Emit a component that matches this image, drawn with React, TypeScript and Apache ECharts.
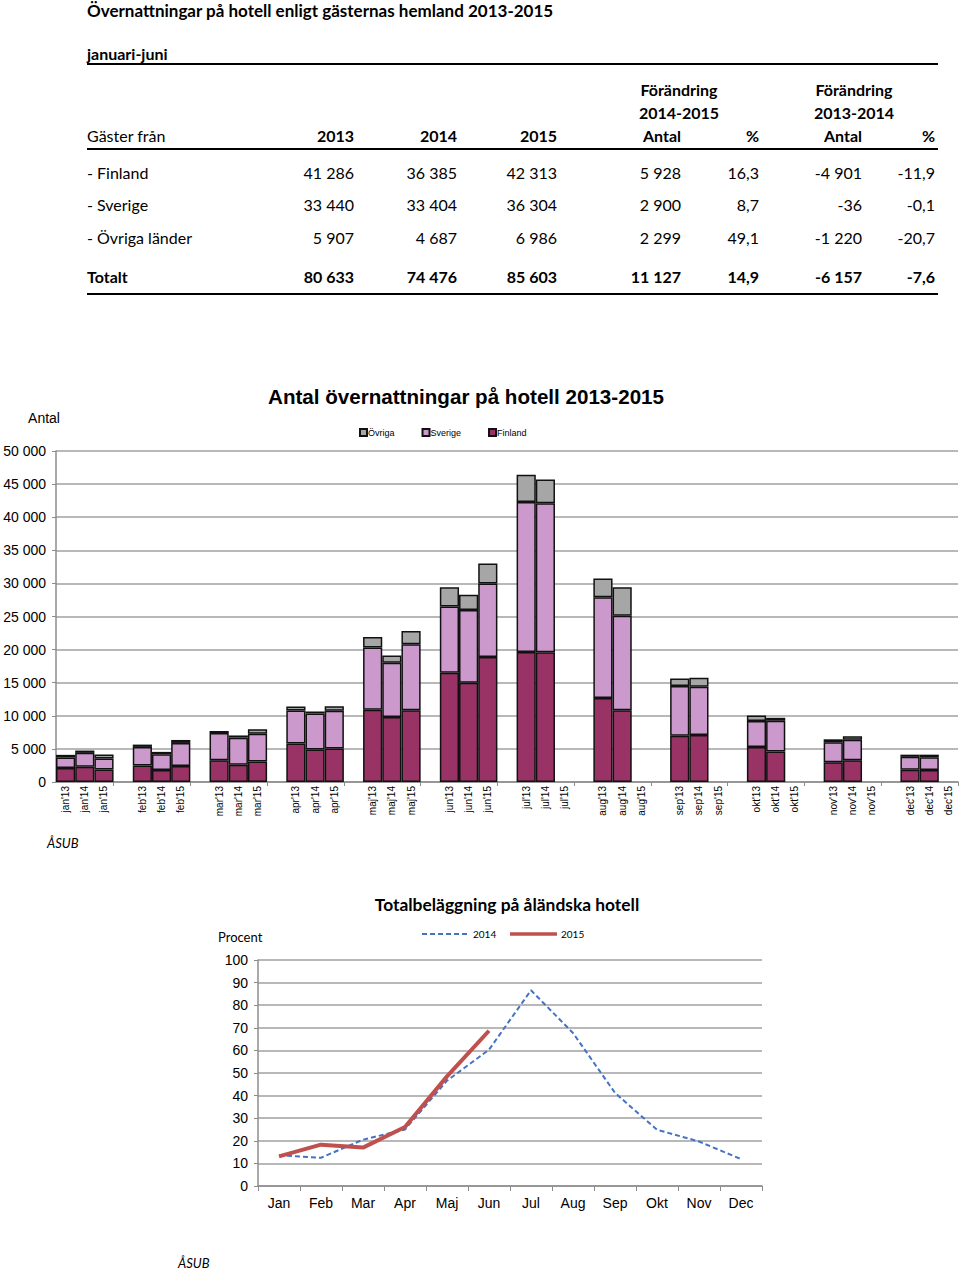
import React, { useEffect, useRef } from 'react';
import * as echarts from 'echarts';

// ---------- Table data ----------
const tableTitle = 'Övernattningar på hotell enligt gästernas hemland 2013-2015';
const tableSubtitle = 'januari-juni';
const headerLabels = ['Gäster från', '2013', '2014', '2015', 'Antal', '%', 'Antal', '%'];
const changeHeaders = [
  ['Förändring', '2014-2015'],
  ['Förändring', '2013-2014'],
];
const rowLabels = ['- Finland', '- Sverige', '- Övriga länder'];
const col2013 = [41286, 33440, 5907];
const col2014 = [36385, 33404, 4687];
const col2015 = [42313, 36304, 6986];
const chg1415 = [5928, 2900, 2299];
const pct1415 = [16.3, 8.7, 49.1];
const chg1314 = [-4901, -36, -1220];
const pct1314 = [-11.9, -0.1, -20.7];
const totalLabel = 'Totalt';
const totals = [80633, 74476, 85603, 11127, 14.9, -6157, -7.6];

// ---------- Bar chart data ----------
const barTitle = 'Antal övernattningar på hotell 2013-2015';
const monthsShort = ['jan', 'feb', 'mar', 'apr', 'maj', 'jun', 'jul', 'aug', 'sep', 'okt', 'nov', 'dec'];
const yearsShort = ['13', '14', '15'];
const finland2013 = [2100, 2500, 3300, 5800, 10900, 16500, 19650, 12700, 7000, 5300, 3000, 1850];
const finland2014 = [2300, 1800, 2600, 4900, 9800, 15000, 19600, 10850, 7100, 4600, 3300, 1800];
const finland2015 = [1900, 2400, 3100, 5050, 10850, 18900, null, null, null, null, null, null];
const sverige2013 = [1600, 2800, 4100, 5000, 9400, 10000, 22650, 15200, 7500, 3900, 3000, 1950];
const sverige2014 = [2100, 2400, 4100, 5450, 8200, 11000, 22500, 14250, 7300, 4650, 3100, 1950];
const sverige2015 = [1650, 3500, 4200, 5700, 9950, 11100, null, null, null, null, null, null];
const ovriga2013 = [400, 350, 300, 600, 1600, 2900, 4100, 2850, 1150, 850, 450, 330];
const ovriga2014 = [350, 350, 330, 300, 1100, 2300, 3600, 4300, 1350, 450, 500, 380];
const ovriga2015 = [600, 450, 650, 700, 2000, 3000, null, null, null, null, null, null];
const barYTicks = [0, 5000, 10000, 15000, 20000, 25000, 30000, 35000, 40000, 45000, 50000];

// ---------- Line chart data ----------
const lineTitle = 'Totalbeläggning på åländska hotell';
const lineMonths = ['Jan', 'Feb', 'Mar', 'Apr', 'Maj', 'Jun', 'Jul', 'Aug', 'Sep', 'Okt', 'Nov', 'Dec'];
const lineSeriesNames = ['2014', '2015'];
const occ2014 = [13.6, 12.5, 20.5, 25, 46.6, 60.3, 86.6, 67.7, 41.2, 24.9, 19.7, 11.9];
const occ2015 = [13.1, 18.3, 17.0, 26.1, 48.5, 68.7, null, null, null, null, null, null];

const ARIAL = '"Liberation Sans", Arial, sans-serif';
const CAL = 'Lato, "Open Sans", sans-serif';
const BLUE = '#4472c4';
const RED = '#c0504d';

function fmtInt(n: number): string {
  const s = String(Math.abs(n)).replace(/\B(?=(\d{3})+(?!\d))/g, ' ');
  return (n < 0 ? '-' : '') + s;
}
function fmtDec(n: number): string {
  return n.toFixed(1).replace('.', ',');
}

function buildBarData(a: (number | null)[], b: (number | null)[], c: (number | null)[]) {
  const out: (number | null)[] = [];
  for (let m = 0; m < 12; m++) {
    out.push(a[m], b[m], c[m]);
    if (m < 11) out.push(null);
  }
  return out;
}

function buildCategories() {
  const cats: string[] = [];
  for (let m = 0; m < 12; m++) {
    for (const y of yearsShort) cats.push(monthsShort[m] + "'" + y);
    if (m < 11) cats.push(' '.repeat(m + 1));
  }
  return cats;
}

function txt(x: number, y: number, text: string, opts: any = {}) {
  return {
    type: 'text',
    x,
    y,
    style: {
      text,
      fill: '#000',
      font: opts.font || `16px ${CAL}`,
      textAlign: opts.align || 'left',
      textVerticalAlign: 'middle',
      verticalAlign: 'middle',
    },
  };
}
function hline(x1: number, x2: number, y: number, w = 2, stroke = '#000', dash?: number[]) {
  const style: any = { stroke, lineWidth: w };
  if (dash) style.lineDash = dash;
  return { type: 'line', shape: { x1, y1: y, x2, y2: y }, style };
}

export default function App() {
  const ref = useRef<HTMLDivElement>(null);
  useEffect(() => {
    if (!ref.current) return;
    const chart = echarts.init(ref.current, undefined, { renderer: 'svg' });

    const colRight = [354, 457, 557, 681, 759, 862, 935];
    const rowY = [172, 204, 237];
    const reg = `16px ${CAL}`;
    const bold = `bold 16px ${CAL}`;
    const graphics: any[] = [];
    graphics.push(txt(87, 10, tableTitle, { font: `bold 17px ${CAL}` }));
    graphics.push(txt(87, 53, tableSubtitle, { font: bold }));
    graphics.push(hline(87, 938, 64));
    graphics.push(txt(679, 89, changeHeaders[0][0], { font: bold, align: 'center' }));
    graphics.push(txt(679, 112, changeHeaders[0][1], { font: bold, align: 'center' }));
    graphics.push(txt(854, 89, changeHeaders[1][0], { font: bold, align: 'center' }));
    graphics.push(txt(854, 112, changeHeaders[1][1], { font: bold, align: 'center' }));
    graphics.push(txt(87, 135, headerLabels[0], { font: reg }));
    for (let i = 1; i < headerLabels.length; i++) {
      graphics.push(txt(colRight[i - 1], 135, headerLabels[i], { font: bold, align: 'right' }));
    }
    graphics.push(hline(87, 938, 149));
    for (let r = 0; r < rowLabels.length; r++) {
      const vals = [
        fmtInt(col2013[r]), fmtInt(col2014[r]), fmtInt(col2015[r]),
        fmtInt(chg1415[r]), fmtDec(pct1415[r]), fmtInt(chg1314[r]), fmtDec(pct1314[r]),
      ];
      graphics.push(txt(87, rowY[r], rowLabels[r], { font: reg }));
      vals.forEach((v, i) => graphics.push(txt(colRight[i], rowY[r], v, { font: reg, align: 'right' })));
    }
    graphics.push(txt(87, 276, totalLabel, { font: bold }));
    totals.forEach((v, i) => {
      const s = i === 4 || i === 6 ? fmtDec(v) : fmtInt(v);
      graphics.push(txt(colRight[i], 276, s, { font: bold, align: 'right' }));
    });
    graphics.push(hline(87, 938, 294));

    // bar chart texts
    graphics.push(txt(466, 396, barTitle, { font: `bold 20.6px ${ARIAL}`, align: 'center' }));
    graphics.push(txt(44, 418, 'Antal', { font: `14px ${ARIAL}`, align: 'center' }));
    graphics.push(txt(47, 843, 'ÅSUB', { font: `italic 13px ${CAL}` }));
    // line chart texts
    graphics.push(txt(507, 904, lineTitle, { font: `bold 17.4px ${CAL}`, align: 'center' }));
    graphics.push(txt(218, 937, 'Procent', { font: `13px ${CAL}` }));
    graphics.push(txt(178, 1263, 'ÅSUB', { font: `italic 13px ${CAL}` }));
    // line chart legend
    graphics.push(hline(422, 468, 934, 2, BLUE, [5, 3]));
    graphics.push(txt(473, 934, lineSeriesNames[0], { font: `10px ${CAL}` }));
    graphics.push(hline(510, 557, 934, 3.5, RED));
    graphics.push(txt(561, 934, lineSeriesNames[1], { font: `10px ${CAL}` }));

    const cats = buildCategories();
    const grey = '#8c8c8c';

    const option: any = {
      animation: false,
      textStyle: { fontFamily: ARIAL },
      graphic: graphics,
      legend: [
        {
          data: ['Övriga', 'Sverige', 'Finland'],
          left: 359,
          top: 428,
          itemWidth: 7,
          itemHeight: 7,
          itemGap: 27,
          icon: 'rect',
          padding: 0,
          textStyle: { fontSize: 9, fontFamily: ARIAL, color: '#000', padding: [0, 0, 0, -4] },
        },
      ],
      grid: [
        { left: 56, right: 2, top: 451, bottom: 489 },
        { left: 258, right: 198, top: 960, bottom: 85 },
      ],
      xAxis: [
        {
          type: 'category',
          gridIndex: 0,
          data: cats,
          boundaryGap: true,
          axisLine: { lineStyle: { color: grey, width: 1.5 } },
          axisTick: {
            show: true,
            length: 4,
            interval: (i: number) => i % 4 === 3,
            lineStyle: { color: grey },
          },
          axisLabel: { interval: 0, rotate: 90, fontSize: 10, color: '#000', margin: 4, fontFamily: ARIAL },
        },
        {
          type: 'category',
          gridIndex: 1,
          data: lineMonths,
          boundaryGap: true,
          axisLine: { lineStyle: { color: grey, width: 1.5 } },
          axisTick: { show: true, length: 5, interval: 0, lineStyle: { color: grey } },
          axisLabel: { interval: 0, fontSize: 14, color: '#000', margin: 10, fontFamily: ARIAL },
        },
      ],
      yAxis: [
        {
          type: 'value',
          gridIndex: 0,
          min: barYTicks[0],
          max: barYTicks[barYTicks.length - 1],
          interval: barYTicks[1] - barYTicks[0],
          axisLine: { show: true, lineStyle: { color: grey, width: 1.5 } },
          axisTick: { show: true, length: 4, lineStyle: { color: grey } },
          axisLabel: { fontSize: 14, color: '#000', margin: 10, fontFamily: ARIAL, formatter: (v: number) => fmtInt(v) },
          splitLine: { lineStyle: { color: '#a0a0a0', width: 1.5 } },
        },
        {
          type: 'value',
          gridIndex: 1,
          min: 0,
          max: 100,
          interval: 10,
          axisLine: { show: true, lineStyle: { color: grey, width: 1.5 } },
          axisTick: { show: true, length: 4, lineStyle: { color: grey } },
          axisLabel: { fontSize: 14, color: '#000', margin: 10, fontFamily: ARIAL },
          splitLine: { lineStyle: { color: '#a0a0a0', width: 1.5 } },
        },
      ],
      series: [
        {
          name: 'Finland',
          type: 'bar',
          stack: 'tot',
          xAxisIndex: 0,
          yAxisIndex: 0,
          barCategoryGap: '0%',
          data: buildBarData(finland2013, finland2014, finland2015),
          itemStyle: { color: '#993366', borderColor: '#111', borderWidth: 1.5 },
        },
        {
          name: 'Sverige',
          type: 'bar',
          stack: 'tot',
          xAxisIndex: 0,
          yAxisIndex: 0,
          barCategoryGap: '0%',
          data: buildBarData(sverige2013, sverige2014, sverige2015),
          itemStyle: { color: '#cc99cc', borderColor: '#111', borderWidth: 1.5 },
        },
        {
          name: 'Övriga',
          type: 'bar',
          stack: 'tot',
          xAxisIndex: 0,
          yAxisIndex: 0,
          barCategoryGap: '0%',
          data: buildBarData(ovriga2013, ovriga2014, ovriga2015),
          itemStyle: { color: '#a6a6a6', borderColor: '#111', borderWidth: 1.5 },
        },
        {
          name: lineSeriesNames[0],
          type: 'line',
          xAxisIndex: 1,
          yAxisIndex: 1,
          data: occ2014,
          symbol: 'none',
          lineStyle: { color: BLUE, width: 2, type: [5, 3] },
          itemStyle: { color: BLUE },
        },
        {
          name: lineSeriesNames[1],
          type: 'line',
          xAxisIndex: 1,
          yAxisIndex: 1,
          data: occ2015,
          symbol: 'none',
          lineStyle: { color: RED, width: 4 },
          itemStyle: { color: RED },
        },
      ],
    };
    chart.setOption(option);
    return () => chart.dispose();
  }, []);

  return (
    <div
      ref={ref}
      style={{ position: 'absolute', left: 0, top: 0, width: 960, height: 1271, background: '#fff' }}
    />
  );
}
